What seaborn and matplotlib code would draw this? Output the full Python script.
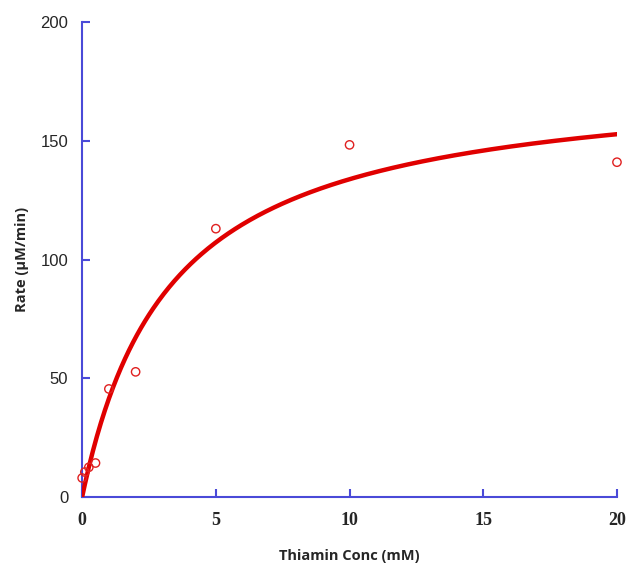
import numpy as np
import pandas as pd
import matplotlib
matplotlib.use("Agg")
import matplotlib.pyplot as plt
import seaborn as sns

conc = [0.0, 0.1, 0.25, 0.5, 1.0, 2.0, 5.0, 10.0, 20.0]
rate = [8.0, 10.5, 12.5, 14.3, 45.5, 52.7, 113.0, 148.3, 141.0]

# Michaelis-Menten fit parameters
vmax = 178.0
km = 3.3

xticks = [0, 5, 10, 15, 20]
yticks = [0, 50, 100, 150, 200]

sns.set_theme(style="white")
plt.rcParams['font.family'] = ['Liberation Sans', 'DejaVu Sans']

fig = plt.figure(figsize=(6.27, 5.67), dpi=100)
ax = fig.add_axes([0.131, 0.1235, 0.853, 0.8375])

fit_x = np.linspace(0, 20, 400)
fit = pd.DataFrame({"x": fit_x, "y": vmax * fit_x / (km + fit_x)})
obs = pd.DataFrame({"x": conc, "y": rate})

sns.lineplot(data=fit, x="x", y="y", ax=ax, color="#e00000", linewidth=3.2, zorder=3)
sns.scatterplot(data=obs, x="x", y="y", ax=ax, marker="o", s=36,
                facecolor="none", edgecolor="#e02020", linewidth=1.0, zorder=4, clip_on=False)

ax.set_xlim(0, 20)
ax.set_ylim(0, 200)
ax.set_xticks(xticks)
ax.set_yticks(yticks)
ax.set_xticklabels([str(t) for t in xticks], fontfamily="Liberation Serif",
                   fontweight="bold", fontsize=13)
ax.set_yticklabels([str(t) for t in yticks], fontsize=12)

axcol = "#4a4ad8"
for s in ["top", "right"]:
    ax.spines[s].set_visible(False)
for s in ["left", "bottom"]:
    ax.spines[s].set_color(axcol)
    ax.spines[s].set_linewidth(1.5)
ax.tick_params(axis="both", direction="in", length=6, width=1.5, color=axcol,
               bottom=True, left=True, top=False, right=False)
ax.tick_params(axis="x", pad=11)
ax.tick_params(axis="y", pad=10)

ax.set_xlabel("Thiamin Conc (mM)", fontfamily="Open Sans", fontweight="bold",
              fontsize=10.5, labelpad=14)
ax.set_ylabel("Rate (µM/min)", fontfamily="Open Sans", fontweight="bold",
              fontsize=10.5, labelpad=8)

fig.savefig("out.png", dpi=100)
